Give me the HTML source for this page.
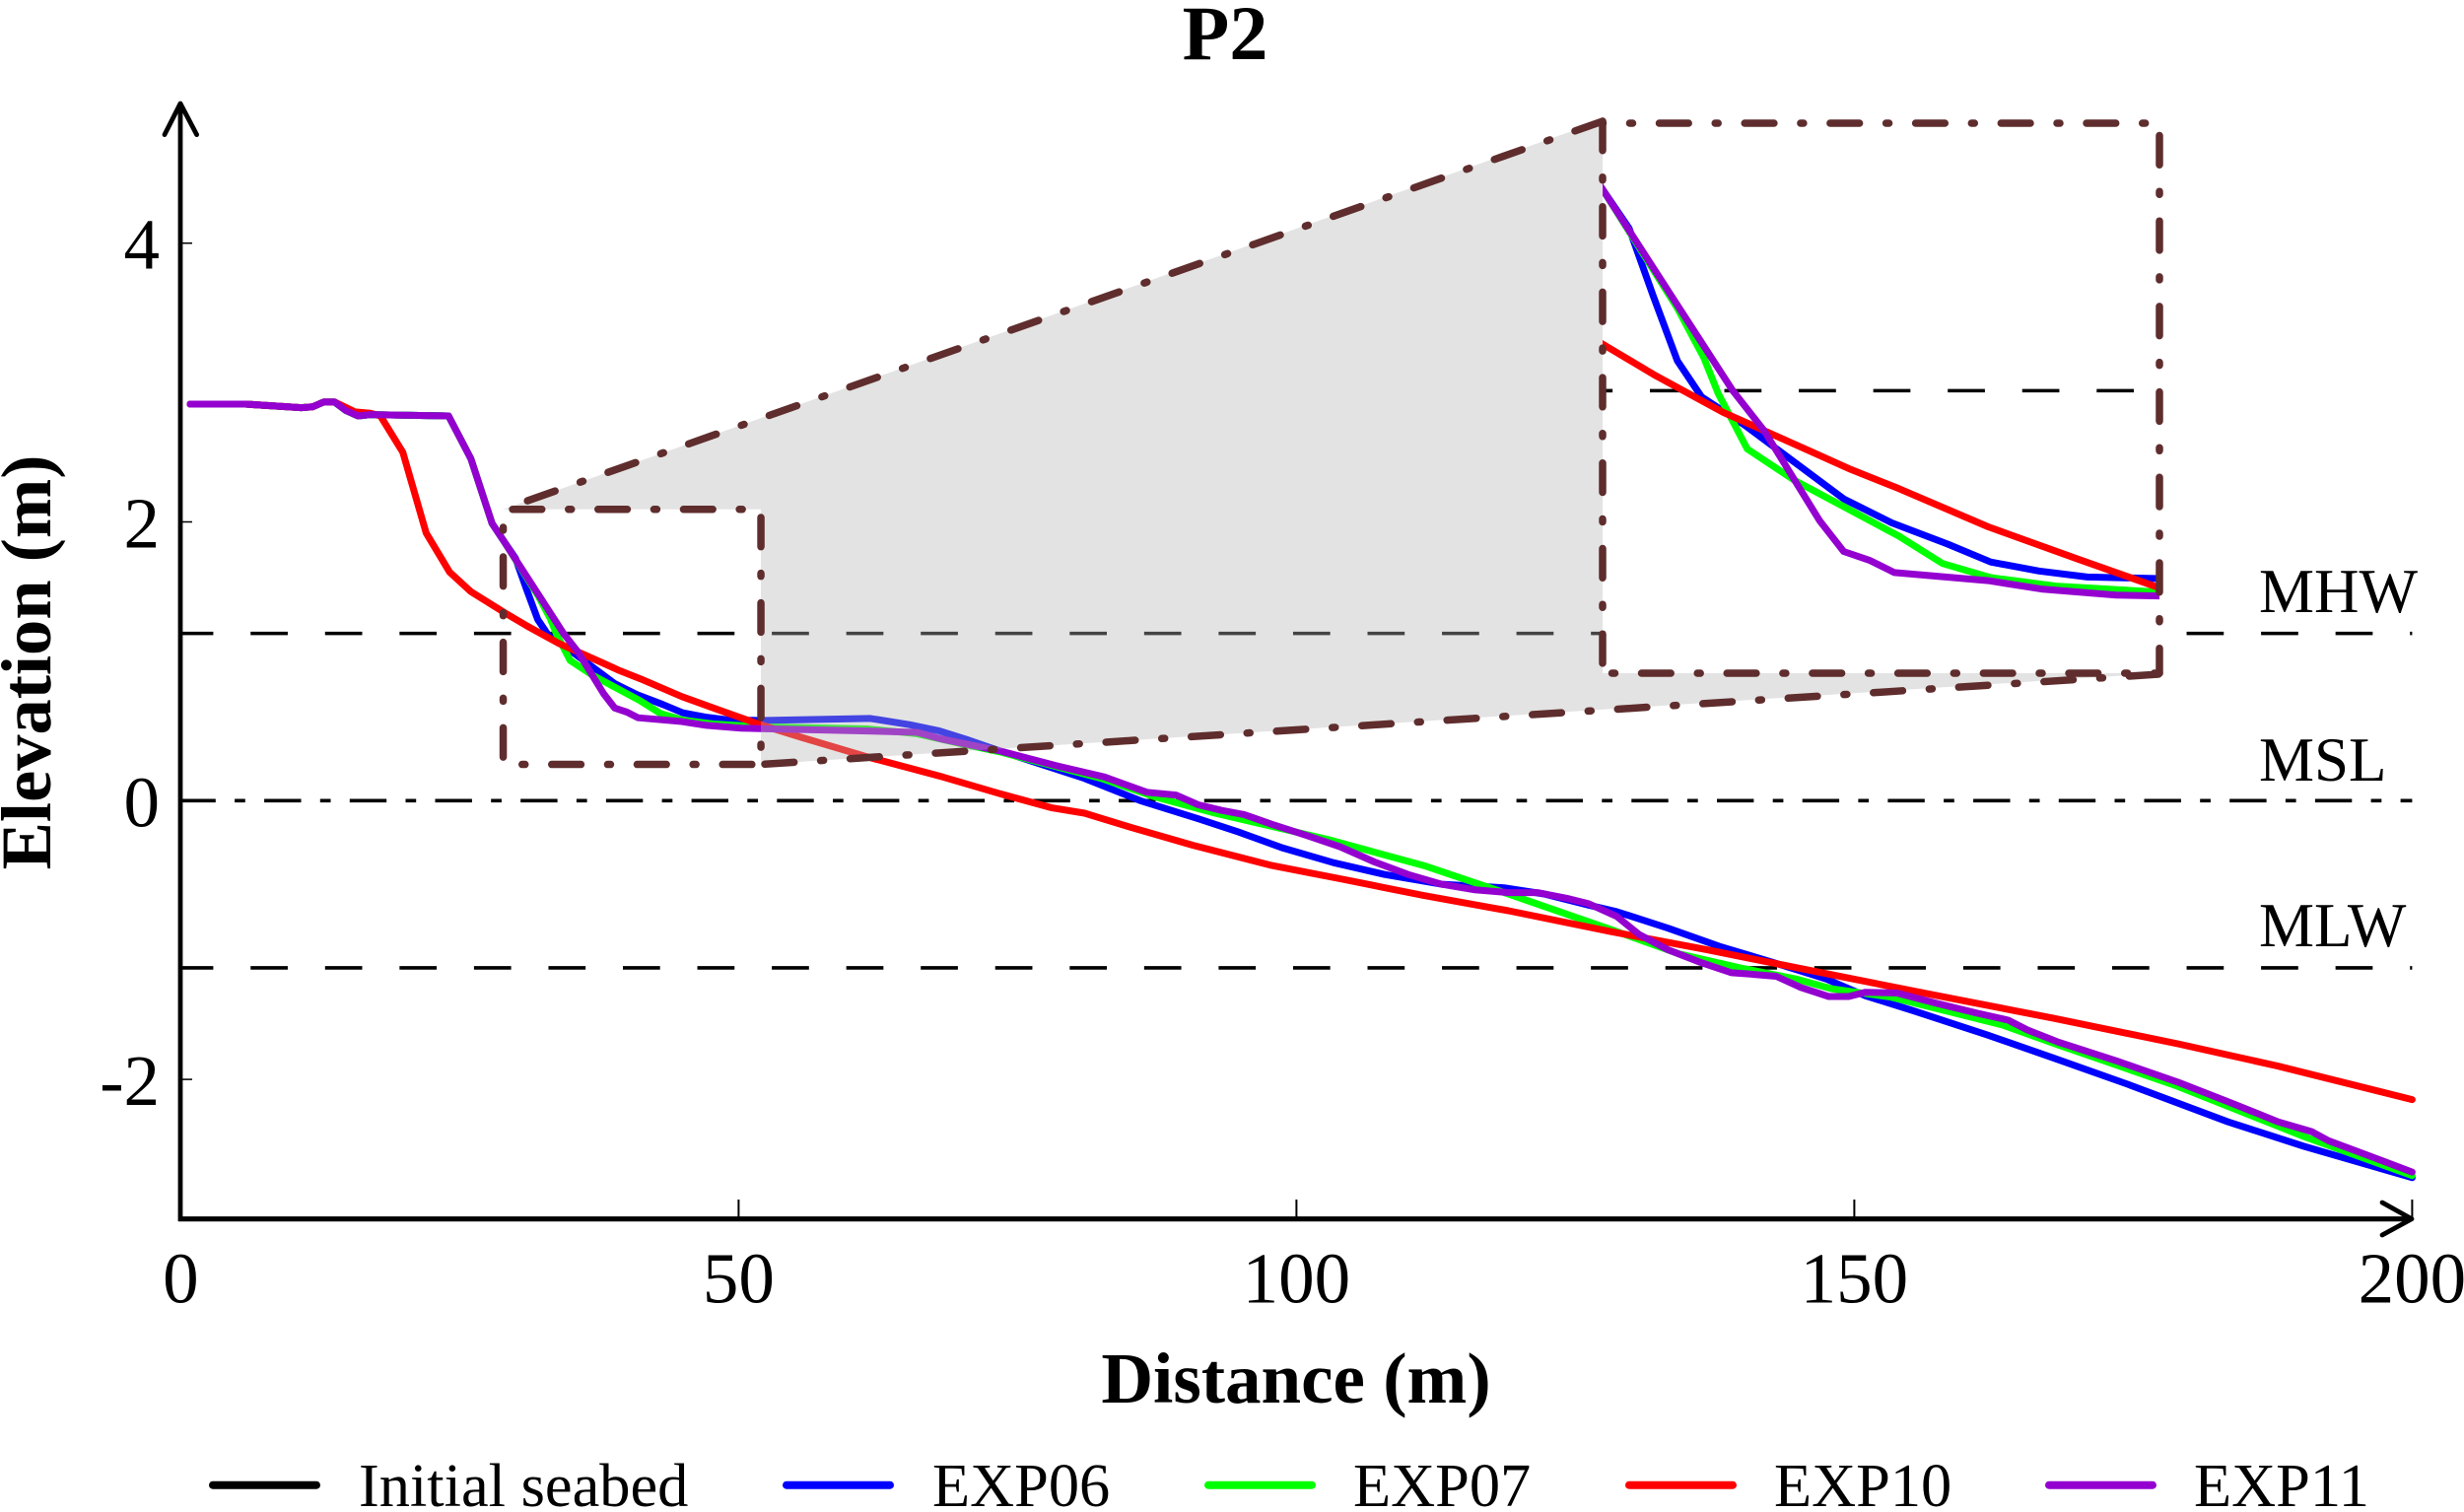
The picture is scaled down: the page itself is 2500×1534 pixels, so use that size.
<!DOCTYPE html>
<html lang="en">
<head>
<meta charset="utf-8">
<title>P2 elevation profile</title>
<style>
html,body{margin:0;padding:0;background:#fff;}
svg{display:block;}
text{font-family:"Liberation Serif","Times New Roman",serif;fill:#000;}
</style>
</head>
<body>
<svg id="chart" xmlns="http://www.w3.org/2000/svg" width="2500" height="1534" viewBox="0 0 2500 1534">
<rect x="0" y="0" width="2500" height="1534" fill="#fff"/>
<defs>
<clipPath id="inset-clip"><rect x="1626" y="125" width="565" height="558"/></clipPath>
</defs>
<g id="main-refs"></g>
<g id="main-series"></g>
<path id="zoom-shade" fill="rgba(181,181,181,0.376)"/>
<rect id="inset-bg" fill="#fff"/>
<g id="inset-plot" clip-path="url(#inset-clip)"></g>
<g id="frames" fill="none" stroke="#5f2d2d" stroke-width="7.5" stroke-linecap="round" stroke-dasharray="29.7 27 3 27"></g>
<g id="axes"></g>
<text x="1243" y="60" text-anchor="middle" font-size="78" font-weight="bold">P2</text>
<text x="1315" y="1423" text-anchor="middle" font-size="73" font-weight="bold">Distance (m)</text>
<text transform="translate(51 672) rotate(-90)" text-anchor="middle" font-size="72.5" font-weight="bold">Elevation (m)</text>
<g id="legend"></g>
</svg>
<script>
const xTicks = [0, 50, 100, 150, 200];
const yTicks = [4, 2, 0, -2];
const refNames = ["MHW", "MSL", "MLW"];
const refLevels = [1.2, 0, -1.2];
const seriesNames = ["EXP06", "EXP07", "EXP10", "EXP11"];

const seabedDistance = [0.85,5.8,10.8,11.8,12.8,13.8,14.8,15.9,17,24];
const seabedElevation = [2.845,2.845,2.82,2.825,2.86,2.86,2.80,2.76,2.77,2.76];

const exp06Distance = [0.85,5.8,10.8,11.8,12.8,13.8,14.8,15.9,17,24,26,27.9,28.9,30,31,32,33,34.8,38.9,40.9,43.2,45,47,49,52,61.8,65.3,68,70.4,73.4,81,86,91.2,94.8,98.8,103.3,107.9,113,118.6,122.2,126.2,128.7,133.3,137.9,142.8,147.5,151,155.2,161.9,167.8,174.5,183.5,190.3,200];
const exp06Elevation = [2.845,2.845,2.82,2.825,2.86,2.86,2.80,2.76,2.77,2.76,2.455,1.99,1.87,1.74,1.515,1.30,1.18,1.085,0.84,0.76,0.69,0.63,0.60,0.58,0.575,0.59,0.545,0.50,0.44,0.357,0.16,0,-0.13,-0.225,-0.34,-0.445,-0.53,-0.60,-0.625,-0.67,-0.75,-0.796,-0.915,-1.045,-1.163,-1.28,-1.40,-1.505,-1.68,-1.845,-2.035,-2.305,-2.48,-2.705];

const exp07Distance = [0.85,5.8,10.8,11.8,12.8,13.8,14.8,15.9,17,24,26,27.9,28.9,32,33.1,33.7,34.9,36.9,41.2,43,45,47.7,52,61.5,66,70.4,73.4,82.5,87.2,92.7,102.9,111.4,119,128.2,134.3,139.8,144.8,148,153.3,163.3,168.2,179,190.3,200];
const exp07Elevation = [2.845,2.845,2.82,2.825,2.86,2.86,2.80,2.76,2.77,2.76,2.455,1.99,1.87,1.475,1.31,1.19,1.006,0.90,0.716,0.625,0.578,0.55,0.53,0.515,0.48,0.40,0.35,0.16,0.03,-0.09,-0.28,-0.465,-0.67,-0.925,-1.10,-1.20,-1.28,-1.35,-1.41,-1.61,-1.75,-2.05,-2.41,-2.69];

const exp10Distance = [0.85,5.8,10.8,11.8,12.8,13.8,15.6,17,17.9,19.9,22,24.1,26,28.9,31.1,33.9,37.7,39.2,41.2,44.9,48.6,52,55.6,61.5,68.3,73.4,78,81,85.1,90.7,97.8,103.9,111.4,119,128.2,136.8,143,156.5,167.8,179,188,200];
const exp10Elevation = [2.845,2.845,2.82,2.825,2.86,2.86,2.79,2.78,2.76,2.50,1.92,1.64,1.50,1.355,1.25,1.128,0.992,0.938,0.874,0.747,0.64,0.544,0.455,0.315,0.17,0.05,-0.05,-0.09,-0.19,-0.32,-0.465,-0.56,-0.68,-0.79,-0.94,-1.07,-1.17,-1.385,-1.56,-1.745,-1.905,-2.145];

const exp11Distance = [0.85,5.8,10.8,11.8,12.8,13.8,14.8,15.9,17,24,26,27.9,28.9,31.8,34.3,35.6,37.9,38.9,40,41,44.9,47.1,50.2,52,61.5,66,68.3,73.4,78.5,82.8,86.6,89.2,91.2,93.3,95.3,97.8,100.9,103.9,107,110,113,116,119,121.6,124.2,126.2,128.7,130.7,133.3,136.2,139,140.7,143,145.2,147.7,149.5,151,153.8,157.4,161,163.8,165.5,168.2,173.6,179,183.5,188,191,192.5,196.2,200];
const exp11Elevation = [2.845,2.845,2.82,2.825,2.86,2.86,2.80,2.76,2.77,2.76,2.455,1.99,1.87,1.51,1.2,1.067,0.768,0.665,0.635,0.595,0.568,0.54,0.52,0.517,0.50,0.49,0.44,0.357,0.25,0.17,0.06,0.04,-0.03,-0.07,-0.10,-0.17,-0.25,-0.33,-0.44,-0.53,-0.60,-0.64,-0.66,-0.66,-0.70,-0.74,-0.83,-0.96,-1.07,-1.16,-1.235,-1.245,-1.26,-1.34,-1.405,-1.405,-1.375,-1.38,-1.455,-1.525,-1.575,-1.645,-1.73,-1.87,-2.02,-2.16,-2.305,-2.375,-2.44,-2.55,-2.665];

const zoomDistanceRange = [28.9, 52];
const zoomElevationRange = [0.26, 2.09];

const NS = "http://www.w3.org/2000/svg";
const X0 = 183.4, XS = 11.32, Y0 = 812.3, YS = 141.4;
function xScale(d){ return X0 + XS * d; }
function yScale(v){ return Y0 - YS * v; }

const INSET = {l:1626, t:125, r:2191, b:683};
const zl = xScale(zoomDistanceRange[0]), zr = xScale(zoomDistanceRange[1]);
const zt = yScale(zoomElevationRange[1]), zb = yScale(zoomElevationRange[0]);
function insetX(d){ return INSET.l + (xScale(d) - zl) * (INSET.r - INSET.l) / (zr - zl); }
function insetY(v){ return INSET.t + (yScale(v) - zt) * (INSET.b - INSET.t) / (zb - zt); }

function el(tag, attrs, parent){
  const e = document.createElementNS(NS, tag);
  for (const k in attrs) e.setAttribute(k, attrs[k]);
  parent.appendChild(e);
  return e;
}
function pointsOf(ds, vs, fx, fy){
  return ds.map(function(d, i){ return fx(d).toFixed(1) + "," + fy(vs[i]).toFixed(1); }).join(" ");
}

const mainRefs = document.getElementById("main-refs");
const mainSeries = document.getElementById("main-series");
const insetPlot = document.getElementById("inset-plot");
const framesG = document.getElementById("frames");
const axesG = document.getElementById("axes");
const legendG = document.getElementById("legend");

/* reference lines */
refLevels.forEach(function(level, i){
  const isMsl = level === 0;
  const line = el("line", {
    x1: xScale(0), x2: xScale(200), y1: yScale(level), y2: yScale(level),
    stroke: "#000", "stroke-width": 3.6,
    "stroke-dasharray": isMsl ? "37.4 19.3 10.7 19.3" : "37.7 37.85",
    "stroke-dashoffset": isMsl ? 2 : 4.7
  }, mainRefs);
  
  
});
const refLabelY = [621, 792, 960];
refNames.forEach(function(name, i){
  const t = el("text", {x: 2292, y: refLabelY[i], "font-size": 63}, axesG);
  
  
  t.textContent = name;
});

/* series */
const seriesDefs = [
  {key:"initial-seabed", ds:seabedDistance, vs:seabedElevation, color:"#000000"},
  {key:"exp06", ds:exp06Distance, vs:exp06Elevation, color:"#0000ff"},
  {key:"exp07", ds:exp07Distance, vs:exp07Elevation, color:"#00ff00"},
  {key:"exp10", ds:exp10Distance, vs:exp10Elevation, color:"#ff0000"},
  {key:"exp11", ds:exp11Distance, vs:exp11Elevation, color:"#9400d0"}
];
seriesDefs.forEach(function(s){
  const common = {fill:"none", stroke:s.color, "stroke-width":7, "stroke-linejoin":"round", "stroke-linecap":"round"};
  const p = el("polyline", Object.assign({points: pointsOf(s.ds, s.vs, xScale, yScale)}, common), mainSeries);
  
  
  const q = el("polyline", Object.assign({points: pointsOf(s.ds, s.vs, insetX, insetY)}, common), insetPlot);
  
  
});
const insetRef = el("line", {
  x1: INSET.l, x2: INSET.r, y1: insetY(refLevels[0]), y2: insetY(refLevels[0]),
  stroke: "#000", "stroke-width": 3.6, "stroke-dasharray": "37.7 37.85", "stroke-dashoffset": -48
}, insetPlot);


insetPlot.insertBefore(insetRef, insetPlot.firstChild);

/* shade + inset background */
document.getElementById("zoom-shade").setAttribute("d",
  "M" + zl + " " + zt + " L" + INSET.l + " " + (INSET.t - 3) + " L" + INSET.l + " " + INSET.b +
  " L" + INSET.r + " " + INSET.b + " L" + zr + " " + zb + " L" + zr + " " + zt + " Z");
const bg = document.getElementById("inset-bg");
bg.setAttribute("x", INSET.l); bg.setAttribute("y", INSET.t);
bg.setAttribute("width", INSET.r - INSET.l); bg.setAttribute("height", INSET.b - INSET.t);

/* dash-dot frames */
function frameLine(x1, y1, x2, y2, offset, name){
  const l = el("line", {x1:x1, y1:y1, x2:x2, y2:y2, "stroke-dashoffset":offset}, framesG);
  
  
}
frameLine(zl, zt, zr, zt, -9.5, "zoom-box-top");
frameLine(zr, zt, zr, zb, -8.2, "zoom-box-right");
frameLine(zl, zb, zr, zb, -49.2, "zoom-box-bottom");
frameLine(zl, zt, zl, zb, -48.2, "zoom-box-left");
frameLine(INSET.l, INSET.t, INSET.r, INSET.t, -57.5, "inset-box-top");
frameLine(INSET.r, INSET.t, INSET.r, INSET.b, -12.5, "inset-box-right");
frameLine(INSET.l, INSET.b, INSET.r, INSET.b, -39.5, "inset-box-bottom");
frameLine(INSET.l, INSET.t - 2, INSET.l, INSET.b, 0, "inset-box-left");
frameLine(INSET.l, INSET.t - 2, zl, zt, 0, "connector-top");
frameLine(zr, zb, INSET.r, INSET.b + 1, -4, "connector-bottom");

/* axes */
const yAxis = el("line", {x1:183, y1:1239, x2:183, y2:105, stroke:"#000", "stroke-width":4.8}, axesG);


const xAxis = el("line", {x1:181, y1:1236.7, x2:2446, y2:1236.7, stroke:"#000", "stroke-width":5.2}, axesG);


const yArrow = el("polyline", {points:"167,136.6 183,105 199.6,136.6", fill:"none", stroke:"#000", "stroke-width":4.8, "stroke-linecap":"round", "stroke-linejoin":"round"}, axesG);


const xArrow = el("polyline", {points:"2417,1220 2447,1236.7 2417,1253", fill:"none", stroke:"#000", "stroke-width":4.8, "stroke-linecap":"round", "stroke-linejoin":"round"}, axesG);



yTicks.forEach(function(v){
  const tick = el("line", {x1:183, x2:195, y1:yScale(v), y2:yScale(v), stroke:"#000", "stroke-width":1.5}, axesG);
  
  
  const lab = el("text", {x:162, y:yScale(v) + 26, "text-anchor":"end", "font-size":73}, axesG);
  
  
  lab.textContent = String(v);
});
xTicks.forEach(function(d){
  if (d > 0) {
    const tick = el("line", {x1:xScale(d), x2:xScale(d), y1:1217, y2:1236, stroke:"#000", "stroke-width":2}, axesG);
    
    
  }
  const lab = el("text", {x:xScale(d), y:1321.7, "text-anchor":"middle", "font-size":73}, axesG);
  
  
  lab.textContent = String(d);
});

/* legend */
const legendLabels = ["Initial seabed"].concat(seriesNames);
const legendColors = ["#000000", "#0000ff", "#00ff00", "#ff0000", "#9400d0"];
const legendSwatchX = [212, 794, 1222, 1649, 2075];
const legendTextX = [364, 946, 1373, 1800, 2226];
legendLabels.forEach(function(label, i){
  const sw = el("line", {x1:legendSwatchX[i] + 4, x2:legendSwatchX[i] + 109, y1:1506.7, y2:1506.7, stroke:legendColors[i], "stroke-width":8, "stroke-linecap":"round"}, legendG);
  
  
  const t = el("text", {x:legendTextX[i], y:1528, "font-size":62.4}, legendG);
  
  
  t.textContent = label;
});
</script>
</body>
</html>
